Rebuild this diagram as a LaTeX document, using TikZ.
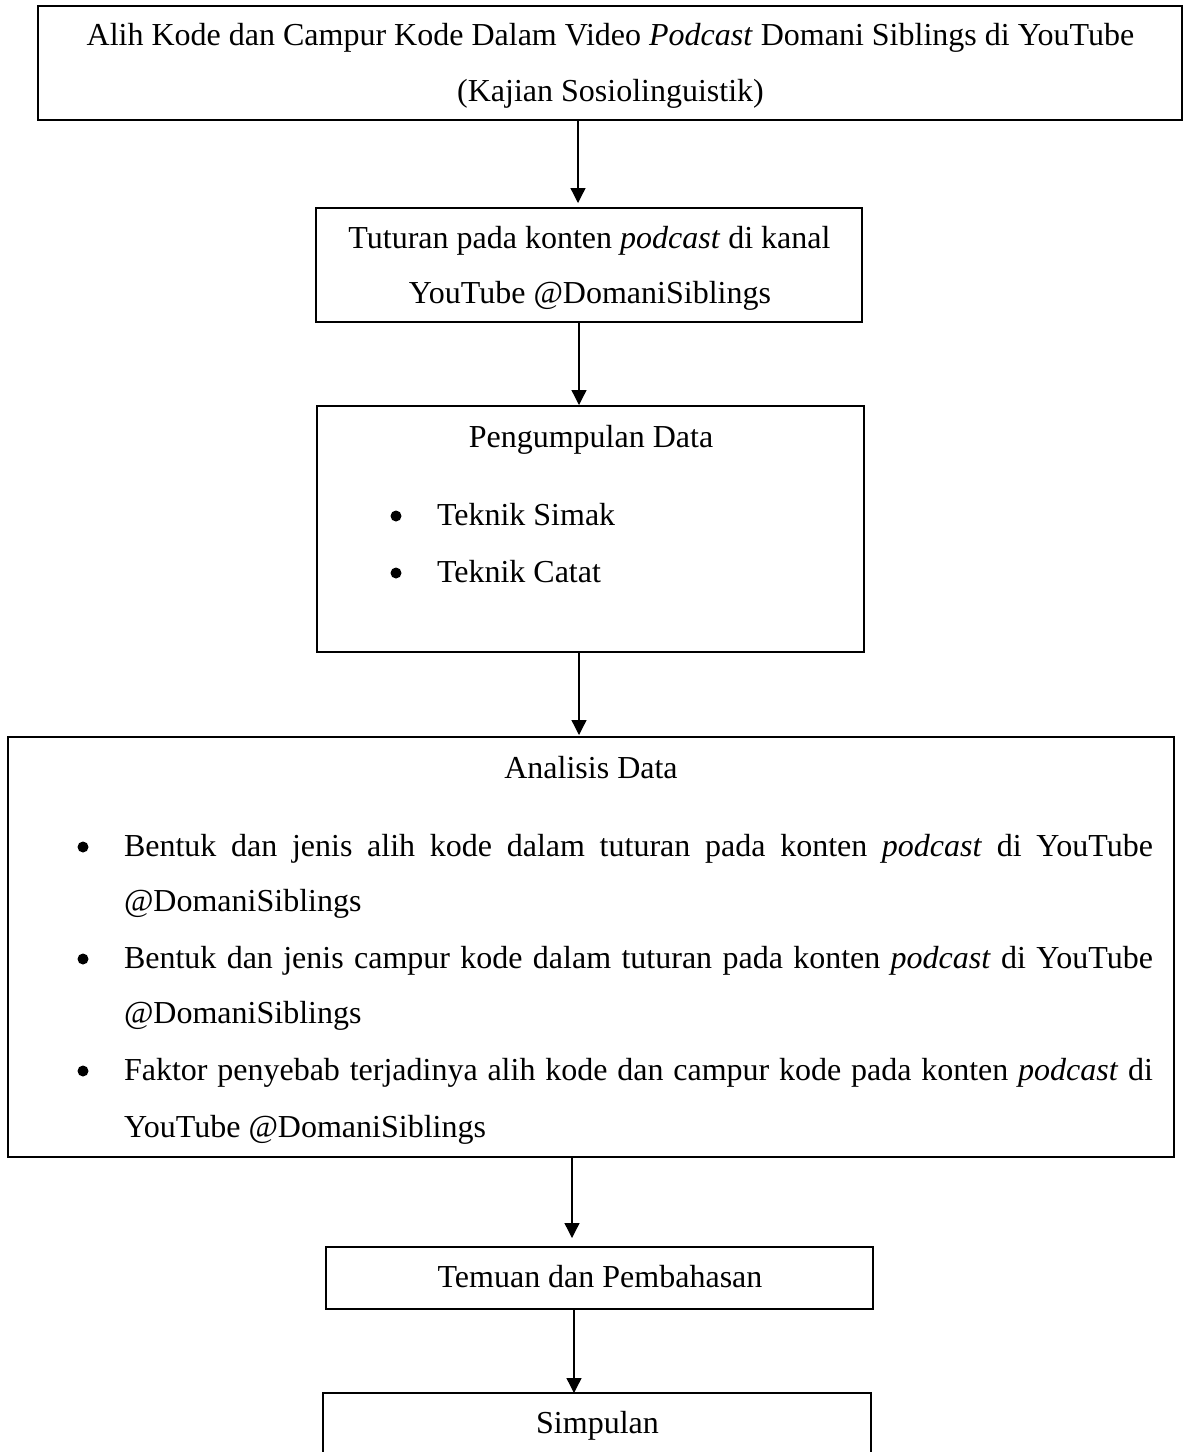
\documentclass[tikz,border=0pt]{standalone}
\usepackage{fontspec}
\setmainfont{Liberation Serif}
\usetikzlibrary{arrows.meta}
\tikzset{
  box/.style={draw, line width=1.5pt, inner sep=0pt, outer sep=0pt},
  txt/.style={inner sep=0pt, outer sep=0pt, anchor=base, font=\fontsize{32}{38}\selectfont},
  ltxt/.style={txt, anchor=base west},
  dot/.style={circle, fill, inner sep=0pt, minimum size=11pt},
  arr/.style={line width=1.3pt, -{Triangle[length=15pt,width=15pt]}},
}
\begin{document}
\begin{tikzpicture}[x=1pt,y=-1pt]
\useasboundingbox (0,0) rectangle (1183,1452);
\clip (0,0) rectangle (1183,1452);
% boxes
\node[box, minimum width=1144pt, minimum height=114pt] (b1) at (610,63) {};
\node[box, minimum width=546pt, minimum height=114pt] (b2) at (589,265) {};
\node[box, minimum width=547pt, minimum height=246pt] (b3) at (590.5,529) {};
\node[box, minimum width=1166pt, minimum height=420pt] (b4) at (591,947) {};
\node[box, minimum width=547pt, minimum height=62pt] (b5) at (599.5,1278) {};
\node[box, minimum width=548pt, minimum height=87pt] (b6) at (597,1436.5) {};
% texts
\node[txt] (t1a) at (610.5,45) {Alih Kode dan Campur Kode Dalam Video \textit{Podcast} Domani Siblings di YouTube};
\node[txt] (t1b) at (610.5,101) {(Kajian Sosiolinguistik)};
\node[txt] (t2a) at (589.5,248) {Tuturan pada konten \textit{podcast} di kanal};
\node[txt] (t2b) at (590,303) {YouTube @DomaniSiblings};
\node[txt] (t3) at (591,447) {Pengumpulan Data};
\node[dot] (d31) at (396,516) {};
\node[ltxt] (t31) at (437,525) {Teknik Simak};
\node[dot] (d32) at (396,573) {};
\node[ltxt] (t32) at (437,582) {Teknik Catat};
\node[txt] (t4) at (591,778) {Analisis Data};
\node[dot] (d41) at (83,847) {};
\node[ltxt] (t41a) at (124,856) {\makebox[1029pt][s]{Bentuk dan jenis alih kode dalam tuturan pada konten \textit{podcast} di YouTube}};
\node[ltxt] (t41b) at (124,911) {@DomaniSiblings};
\node[dot] (d42) at (83,959) {};
\node[ltxt] (t42a) at (124,968) {\makebox[1029pt][s]{Bentuk dan jenis campur kode dalam tuturan pada konten \textit{podcast} di YouTube}};
\node[ltxt] (t42b) at (124,1023) {@DomaniSiblings};
\node[dot] (d43) at (83,1071) {};
\node[ltxt] (t43a) at (124,1080) {\makebox[1029pt][s]{Faktor penyebab terjadinya alih kode dan campur kode pada konten \textit{podcast} di}};
\node[ltxt] (t43b) at (124,1137) {YouTube @DomaniSiblings};
\node[txt] (t5) at (600,1287) {Temuan dan Pembahasan};
\node[txt] (t6) at (597.5,1433) {Simpulan};
% arrow x positions
\coordinate (x1) at (578,0);
\coordinate (x2) at (579,0);
\coordinate (x3) at (579,0);
\coordinate (x4) at (572,0);
\coordinate (x5) at (574,0);
\draw[arr, shorten >=5pt] (b1.south -| x1) -- (b2.north -| x1);
\draw[arr, shorten >=1pt] (b2.south -| x2) -- (b3.north -| x2);
\draw[arr, shorten >=2pt] (b3.south -| x3) -- (b4.north -| x3);
\draw[arr, shorten >=9pt] (b4.south -| x4) -- (b5.north -| x4);
\draw[arr] (b5.south -| x5) -- (b6.north -| x5);
\end{tikzpicture}
\end{document}
